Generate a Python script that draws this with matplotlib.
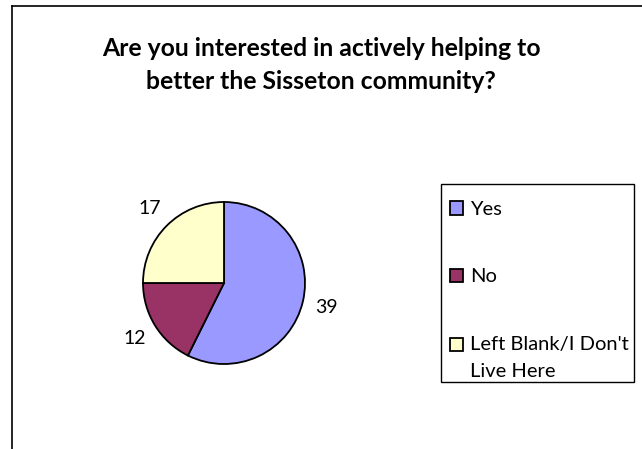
import matplotlib
matplotlib.use("Agg")
import matplotlib.pyplot as plt
from matplotlib.lines import Line2D
from matplotlib.patches import Rectangle
from matplotlib.legend_handler import HandlerPatch

plt.rcParams['font.family'] = ['Lato', 'DejaVu Sans']

title = "Are you interested in actively helping to\nbetter the Sisseton community?"
categories = ["Yes", "No", "Left Blank/I Don't\nLive Here"]
values = [39, 12, 17]
colors = ["#9999FF", "#993366", "#FFFFCC"]

W, H = 642, 449
fig = plt.figure(figsize=(W / 100, H / 100), dpi=100)

# figure border (left and top visible)
fig.add_artist(Line2D([12 / W, 12 / W], [0, 1 - 6 / H], color='black', lw=1.2, transform=fig.transFigure))
fig.add_artist(Line2D([12 / W, 1.0], [1 - 6 / H, 1 - 6 / H], color='black', lw=1.2, transform=fig.transFigure))

cx, cy, r = 224, 283, 81
ax = fig.add_axes([(cx - r) / W, (H - cy - r) / H, 2 * r / W, 2 * r / H])
wedges, texts = ax.pie(values, colors=colors, startangle=90, counterclock=False,
                       labels=[str(v) for v in values], labeldistance=1.3,
                       wedgeprops=dict(edgecolor='black', linewidth=1.3),
                       textprops=dict(fontsize=14, color='black'))
for t in texts:
    t.set_ha('center')
    t.set_va('center')
ax.set_xlim(-1, 1)
ax.set_ylim(-1, 1)
ax.set_aspect('equal')
ax.axis('off')

fig.text(321 / W, 1 - 65 / H, title, ha='center', va='center', fontsize=17.8,
         fontweight='bold', linespacing=1.5)

# legend frame
fig.add_artist(Rectangle((441 / W, 1 - 382 / H), (634 - 441) / W, (382 - 184) / H,
                         transform=fig.transFigure, facecolor='white',
                         edgecolor='black', linewidth=1.0, zorder=1))


def top_square(legend, orig_handle, xdescent, ydescent, width, height, fontsize):
    return Rectangle((-xdescent, -ydescent + 9.7), width, height)


leg = fig.legend(wedges, categories, loc='upper left',
                 bbox_to_anchor=(441 / W, 1 - 192 / H, (634 - 441) / W, 0),
                 mode='expand', borderaxespad=0, fontsize=14.5, frameon=False,
                 handlelength=0.65, handleheight=0.65, handletextpad=0.35,
                 labelspacing=2.5, borderpad=0.45,
                 handler_map={wedges[2]: HandlerPatch(patch_func=top_square)})
leg.set_zorder(2)
for t in leg.get_texts():
    t.set_linespacing(1.75)

fig.savefig("out.png", dpi=100)
